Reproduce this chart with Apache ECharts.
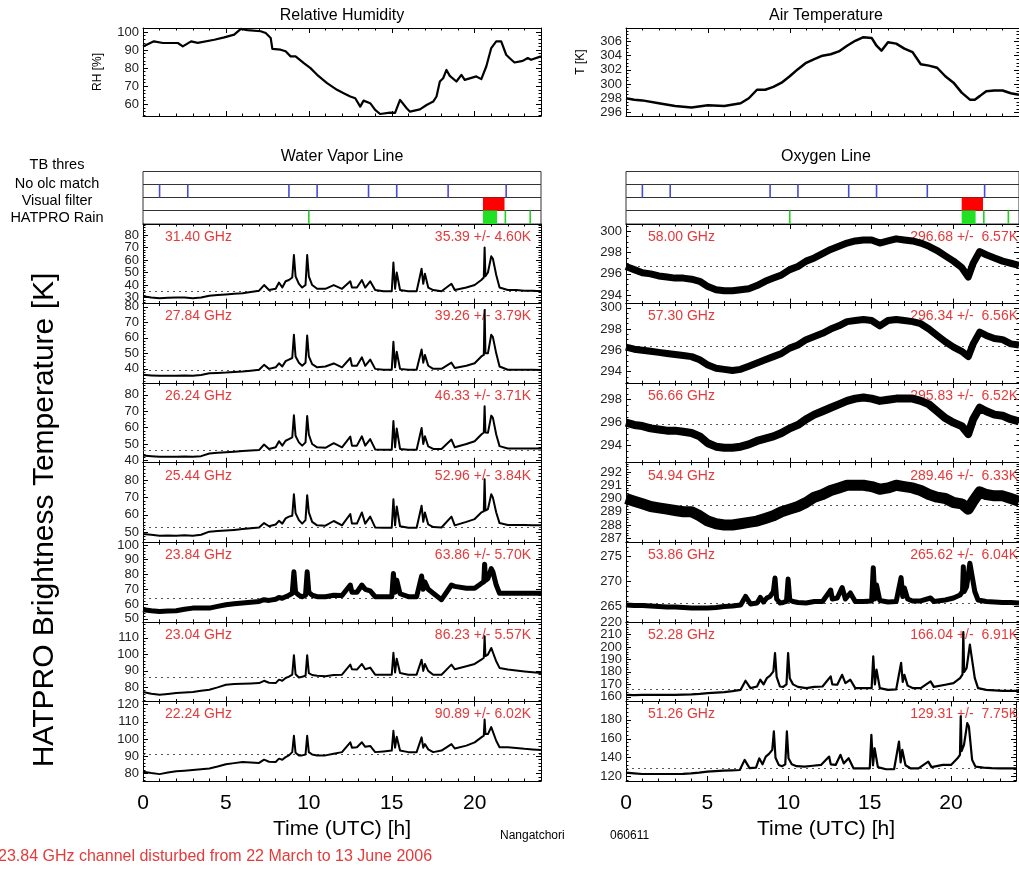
<!DOCTYPE html>
<html><head><meta charset="utf-8">
<script src="https://cdn.jsdelivr.net/npm/echarts@6/dist/echarts.min.js"></script>
<style>html,body{margin:0;padding:0;background:#fff}#c{width:1019px;height:869px}</style>
</head><body><div id="c"></div>
<script>
// ---------------- DATA ----------------
const rhTime = [0,0.66,1.2,2.1,2.4,2.9,3.3,4.3,4.9,5.5,5.9,6.3,7.1,7.4,7.7,7.8,8.3,8.6,8.9,9.2,9.7,10.1,10.5,11.1,11.7,12.1,12.5,12.8,13.1,13.3,13.7,14.0,14.3,14.9,15.2,15.5,15.9,16.1,16.7,17.1,17.5,17.7,17.9,18.1,18.3,18.5,18.9,19.2,19.4,20.1,20.4,20.7,21.0,21.3,21.6,21.9,22.1,22.4,22.9,23.2,23.4,24];
const rhVals = [92,94.8,93.9,93.9,92,94.8,94,95.7,97,98.5,101.7,101,100.4,99.4,96.7,90.6,90.2,89.3,86.5,86.5,82.8,80,76.3,71.7,68,66.1,64.3,63.3,58.7,62,60.6,56.9,54.6,55.4,55.2,62.4,57.8,55.9,57.2,59.6,61.5,64.3,72.6,74.4,79,75.7,72.6,76.3,73.5,75.4,73.9,80.9,91.1,94.8,94.8,87.4,85.6,83.1,84,85.6,84.6,86.5];
const atTime = [0,0.5,1,2,3,4,5,6,7,7.5,8,8.5,9,9.5,10,10.5,11,11.5,12,12.5,13,13.5,14,14.5,15,15.3,15.6,16,16.5,17,17.5,18,18.5,19,19.5,20,20.5,21,21.3,21.6,22,22.5,23,23.5,24];
const atVals = [298,297.8,297.7,297.3,296.9,296.7,297,296.9,297.3,298,299.2,299.2,299.6,300.2,301.1,302.1,303,303.5,304,304.2,304.6,305.4,306.1,306.6,306.5,305.4,304.7,305.9,305.7,305,304.5,302.8,302.6,302.3,301.1,300.2,298.8,297.8,297.8,298.3,299,299.1,299.1,298.7,298.5];

// flags (hours UTC)
const olcTimes = [1.0, 2.7, 8.8, 10.5, 13.6, 15.3, 18.4, 21.9];
const visualFilter = [[20.5, 21.8]];
const rainBoxes = [[20.5, 21.35]];
const rainLines = [10.0, 21.85, 23.35];

// time grid of the spiky channels
const tSp = [0,0.5,1,1.5,2,2.5,3,3.5,4,4.5, 5,5.5,6,6.5,7,7.3,7.6,8,8.2,8.4, 8.6,8.8,9.0,9.1,9.2,9.4,9.6,9.8,9.9,10.0, 10.2,10.5,11,11.5,12,12.5,12.6,12.9,13.2,13.4, 13.7,14,14.5,15,15.1,15.2,15.3,15.5,16,16.5, 16.8,16.9,17.0,17.2,17.5,18,18.6,18.8,19.5,20, 20.4,20.55,20.6,20.65,20.8,21.0,21.1,21.3,21.5,22, 22.5,23,23.5,24];
// water vapour line channels
const wv3140 = [31,30,29.5,29.8,30,30,29.5,30,31.5,32, 32.5,33,33.5,34.5,35.5,40,36,37,42,38, 43,44,46,64,47,41,38,40,64,47, 40,37,37,40,37,43,38,38,44,38, 43,36,35,35,58,37,50,36,35,35, 53,41,49,38,36,35,41,36,38,40, 44,46,70,47,50,63,61,48,38,36, 36,35.5,35.5,35];
const wv2784 = [36.2,35.8,35.5,35.6,35.6,35.8,35.5,36,37.2,37.4, 37.6,38,38.3,38.8,39.4,42.6,40,41,43.6,41.5, 45,46,47,62,48,44,42,44,61.5,48, 43,41,41.5,43.5,41,47,42,42,47.5,42, 46,40,39.5,39.5,57.5,41,51,40,39.5,39.5, 52.5,44,49,42,40,40,44,40.5,42,43.6, 48,49,78,50,50,62,60.5,50,41.5,39.4, 39.4,39.4,39.4,39.2];
const wv2624 = [43,42.6,42.2,42.3,42.2,42.4,42.2,42.6,44.2,44.6, 45,45.3,45.7,46,46.3,49.7,47,48,51.7,49, 52,53,54,67.5,55,51,49,51,67,55.8, 50,48,47.7,50.5,48,54.5,49,49,54.7,49, 53,46.7,46.5,46.5,64,48,59.4,47,46.5,46.5, 59.8,50,54.7,48.5,47,47,52.7,48,50,51.7, 55.8,57,73,57,56.8,67.3,65.9,55.8,48.7,47.3, 47.3,47.3,47.2,47.2];
const wv2544 = [49,48.6,48.1,48.2,48.1,48.3,48.1,48.6,50.4,50.7, 51,51.4,51.9,52.3,52.8,55.3,53.5,54.5,56.6,55, 58,59,59.5,71.8,61,57,55,57,71.3,61.4, 56,54,53.8,56.5,54,60.5,55,55,61.4,55, 59,52.8,52.6,52.6,69,54,64.8,53.5,52.6,52.6, 65.2,56,61.4,54.5,53,52.8,59,54,56,57.6, 61.4,62,80.4,62.5,63.3,71.8,69.9,61.4,55.3,54.2, 54.2,54.2,54,54];
const wv2384 = [56.2,55.5,55,55.3,55.5,56.5,57.3,57.3,57.3,58.5, 59.6,60.2,60.7,61.2,61.8,63,62.5,63.3,64.5,64, 65,66,67.3,81.8,68,66,65,66,81.8,68, 66,65,65,66,65.8,72.9,68,68,72.9,70, 69,65,65,65,80.7,68,76.2,67,65,65, 79,70,75,70,67.3,63,72.9,72,70.7,70.7, 74,75,87,76,77.3,84,81.8,72.9,67.3,67.3, 67.3,67.3,67.3,67.3];
const wv2304 = [77.2,76.2,75.5,76,76.6,76.9,77.2,77.9,78.6,80, 81.6,82,82.2,82.4,82.6,84,82.8,82.6,84.7,84, 85.7,86.5,87.7,99.5,88,86,86.5,87,99.5,88.7, 87.5,87,86.7,87.5,87.7,93.8,91,90.8,94.2,91, 92,87.7,87.7,87.7,101,89,97.4,88.7,87.7,87.7, 96.8,90,94.2,90,87.7,87.7,93.8,91,92.8,94.2, 96.8,98,111,99,99.9,103.9,103.5,95.8,91.8,90.8, 90.3,89.7,89.2,88.7];
const wv2224 = [81,80.2,79.6,80.5,81.3,81.6,82,82.4,82.9,84, 85.3,86,86.7,86.4,86.1,88,86.8,86.7,88.6,88, 89.5,90.5,92.4,101.9,92,90.5,90.5,91,101.9,92.4, 91,90.5,90.5,91.5,92.4,98.1,95,95.2,98.1,95.5, 96,92.4,92.8,93.3,104.8,95,101.3,93.3,92.4,92.4, 101,95,97.1,94,92.4,93.3,97.1,94.5,96.2,98.1, 101,102,111.4,103,102.9,107,107,99,95.2,95.2, 94.8,94.3,94,93.7];
// oxygen line spiky channels
const ox5386 = [265.3,265.2,265.2,265.1,265,264.9,264.9,264.8,264.7,264.7, 264.7,264.8,265,265.1,265.3,267,265.5,265.7,266.8,265.9, 266.7,267,268,270.7,266.5,265.7,265.8,266,270.5,266.3, 266,265.8,265.7,266,266,268.3,266.5,266.7,268.8,266.5, 267.7,266,266,266.1,272.8,266.5,269.3,266.2,265.9,266, 270.8,267,268.7,266.5,266.1,266.1,266.7,266,266.3,266.7, 267.3,268,273,268,269,273.7,273.3,268,266.3,266, 265.9,265.8,265.8,265.7];
const ox5228 = [161.6,161.4,161.5,161.5,161.6,161.6,161.6,161.8,162,162.4, 163,163.4,163.8,164.6,165.6,172.9,167,168.3,173.7,170, 175,177,180.4,195.2,176,168.3,168,170,195.2,175, 170,168,167,168,168.3,176.4,170,169.7,177.7,171, 173.7,167,167,167,192.5,170,181.8,167,165.6,166, 187.2,172,177.7,169,167,167,172.4,168,169.7,171, 175,178,212,180,183.1,201.9,200.6,175,167,165.6, 165.2,164.8,164.8,164.8];
const ox5126 = [124.2,123.5,122.8,122.8,122.8,122.8,122.8,123,123.5,124.3, 125.3,125.8,126.4,126.7,127,137.7,129,129.5,139.4,133, 141.2,144,148.3,167.7,140,132.4,131,133,167.7,139.4, 133,131,130.6,131.5,132.4,141.2,133,132.4,143,134, 139.4,128.8,128.8,128.8,164.2,132,150,130,127.8,128, 157.1,135,148.3,132,128.8,128.8,135.9,130,132.4,132.4, 139.4,143,183.6,147,153.6,176.5,173,137.7,130.6,129.5, 129,128.8,128.8,128.8];
// time grid of the smooth oxygen channels
const tOx = [0,0.5,1,1.5,2,2.5,3,3.5,4,4.5, 5,5.5,6,6.5,7,7.5,8,8.5,9,9.5, 10,10.5,11,11.5,12,12.5,13,13.5,14,14.5, 15,15.5,16,16.5,17,17.5,18,18.5,19,19.5, 20,20.5,20.9,21.2,21.6,22,22.5,23,23.5,24];
const ox5800 = [296.7,296.4,296.1,296.0,295.8,295.7,295.6,295.6,295.5,295.3, 294.8,294.5,294.4,294.4,294.5,294.6,294.9,295.3,295.6,295.9, 296.4,296.7,297.2,297.5,297.9,298.3,298.6,298.9,299.1,299.2, 299.2,298.9,299.1,299.3,299.2,299.1,298.9,298.6,298.2,297.7, 297.2,296.6,295.7,297.0,298.1,297.8,297.5,297.2,297.0,296.8];
const ox5730 = [296.3,296.1,296.0,295.9,295.8,295.7,295.6,295.5,295.4,295.1, 294.6,294.3,294.2,294.1,294.2,294.5,294.8,295.1,295.4,295.7, 296.2,296.5,297.0,297.3,297.6,298.0,298.3,298.7,298.8,298.9, 298.8,298.3,298.8,298.9,298.8,298.7,298.5,298.0,297.4,296.8, 296.3,295.9,295.4,296.6,297.7,297.4,297.1,297.0,296.6,296.5];
const ox5666 = [296.0,295.8,295.7,295.5,295.4,295.3,295.3,295.2,295.1,294.8, 294.2,293.9,293.8,293.8,293.9,294.1,294.4,294.6,294.8,295.1, 295.5,295.8,296.3,296.7,297.0,297.3,297.6,297.9,298.1,298.2, 298.1,297.9,298.0,298.1,298.1,298.1,297.9,297.6,297.0,296.4, 296.0,295.7,295.0,296.3,297.3,297.0,296.7,296.6,296.3,296.1];
const ox5494 = [290.0,289.8,289.6,289.4,289.3,289.2,289.1,289.0,289.0,288.7, 288.3,288.1,288.0,288.0,288.1,288.2,288.3,288.5,288.7,289.0, 289.2,289.4,289.7,290.1,290.3,290.6,290.8,291.0,291.0,291.0, 290.9,290.7,290.8,291.0,290.9,290.8,290.6,290.3,290.1,290.0, 289.7,289.6,289.2,289.8,290.5,290.3,290.2,290.2,290.0,289.8];

const wvFreqs = ['31.40','27.84','26.24','25.44','23.84','23.04','22.24'];
const wvMeans = [35.39, 39.26, 46.33, 52.96, 63.86, 86.23, 90.89];
const wvStds  = [4.60, 3.79, 3.71, 3.84, 5.70, 5.57, 6.02];
const wvRanges = [[25.2,88.8],[30.8,82.1],[38.6,87.1],[44.3,89.9],[48,101.8],[71.5,119.7],[75.6,121.9]];
const wvTicks = [10,10,10,10,10,10,10];
const oxFreqs = ['58.00','57.30','56.66','54.94','53.86','52.28','51.26'];
const oxMeans = [296.68, 296.34, 295.83, 289.46, 265.62, 166.04, 129.31];
const oxStds  = [6.57, 6.56, 6.52, 6.33, 6.04, 6.91, 7.75];
const oxRanges = [[293.2,300.7],[292.9,300.4],[292.5,299.45],[286.7,292.7],[261.9,277.9],[156.3,220.2],[115.4,199.4]];
const oxTicks = [2,2,2,1,5,10,20];
const hourTicks = [0,5,10,15,20];

// ---------------- LAYOUT / STYLE ----------------
const FONT = '"Liberation Sans", Arial, Helvetica, sans-serif';
const RED = '#e33b3b';
const COL = [{left:143, width:398}, {left:626, width:400}];
const PTOP = 224, PBOT = 781, PH = (PBOT-PTOP)/7;
const grids=[], xAxes=[], yAxes=[], series=[], graphics=[];

function isMult(v, step){ const r=v/step; return Math.abs(r-Math.round(r))<1e-6; }
function xAx(g, pos, showLbl){
  return {type:'value', gridIndex:g, position:pos, min:0, max:24, interval:5,
    axisLine:{show:true,onZero:false,lineStyle:{color:'#000',width:1}},
    axisTick:{show:true,inside:true,length:5,lineStyle:{color:'#000'}},
    minorTick:{show:true,splitNumber:5,length:2.5,lineStyle:{color:'#000'}},
    splitLine:{show:false}, minorSplitLine:{show:false},
    axisLabel:{show:showLbl, fontSize:21, color:'#000', fontFamily:FONT, margin:12,
      formatter:v=> hourTicks.indexOf(v)>=0 ? String(v) : ''}};
}
function yAx(g, pos, mn, mx, step, showLbl){
  return {type:'value', gridIndex:g, position:pos, min:mn, max:mx,
    splitNumber:Math.round((mx-mn)/step), scale:true,
    axisLine:{show:true,onZero:false,lineStyle:{color:'#000',width:1}},
    axisTick:{show:true,inside:true,length:5,lineStyle:{color:'#000'}},
    minorTick:{show:true,splitNumber:(step===2?4:5),length:2.5,lineStyle:{color:'#000'}},
    splitLine:{show:false}, minorSplitLine:{show:false},
    axisLabel:{show:showLbl, fontSize:13, color:'#222', fontFamily:FONT, margin:4,
      formatter:v=> isMult(v,step) ? String(Math.round(v)) : ''}};
}
function panel(left, top, width, height, mn, mx, step, showX){
  const g = grids.length;
  grids.push({left, top, width, height, show:false});
  const xi = xAxes.length;
  xAxes.push(xAx(g,'bottom',showX)); xAxes.push(xAx(g,'top',false));
  const yi = yAxes.length;
  yAxes.push(yAx(g,'left',mn,mx,step,true)); yAxes.push(yAx(g,'right',mn,mx,step,false));
  return {xi, yi};
}
function lineSeries(ax, t, v, w, mean){
  const s = {type:'line', xAxisIndex:ax.xi, yAxisIndex:ax.yi, data:t.map((x,i)=>[x,v[i]]),
    showSymbol:false, symbol:'none', z:3, clip:true,
    lineStyle:{color:'#000', width:w, join:'round'}};
  if (mean!==undefined){
    s.markLine = {silent:true, symbol:['none','none'], label:{show:false}, animation:false,
      lineStyle:{type:[2,4], color:'#555', width:1}, data:[{yAxis:mean}], z:2};
  }
  series.push(s);
}
function text(x, y, str, opt){
  opt = opt||{};
  graphics.push({type:'text', x, y, rotation:opt.rot||0, z:opt.z||1, silent:true,
    style:{text:str, fill:opt.color||'#000', font:(opt.size||14)+'px '+FONT,
      textAlign:opt.align||'left', align:opt.align||'left',
      textVerticalAlign:'middle', verticalAlign:'middle'}});
}
function flagGrid(c, top, h){
  const g = grids.length;
  grids.push({left:COL[c].left, top, width:COL[c].width, height:h, show:true, borderColor:'#333', borderWidth:1, backgroundColor:'rgba(0,0,0,0)'});
  xAxes.push({type:'value', gridIndex:g, min:0, max:24, show:false});
  yAxes.push({type:'value', gridIndex:g, min:0, max:1, show:false});
  return {xi:xAxes.length-1, yi:yAxes.length-1};
}
function spans(ax, ranges, color){
  series.push({type:'custom', xAxisIndex:ax.xi, yAxisIndex:ax.yi, z:4, data:ranges,
    renderItem:(p, api)=>{
      const a = api.coord([api.value(0),1]), b = api.coord([api.value(1),0]);
      let x=a[0], w=b[0]-a[0];
      if (w<1.6){ x=a[0]-0.8; w=1.6; }
      return {type:'rect', shape:{x, y:a[1], width:w, height:b[1]-a[1]}, style:{fill:color}};
    }});
}

// top panels
let ax = panel(COL[0].left, 28, COL[0].width, 88, 53.5, 102.2, 10, false);
lineSeries(ax, rhTime, rhVals, 2.2);
ax = panel(COL[1].left, 28, COL[1].width, 88, 295.5, 307.9, 2, false);
lineSeries(ax, atTime, atVals, 2.5);
text(342, 16, 'Relative Humidity', {align:'center', size:16});
text(826, 16, 'Air Temperature', {align:'center', size:16});
text(98, 72, 'RH [%]', {align:'center', size:12, rot:Math.PI/2});
text(581, 62, 'T [K]', {align:'center', size:12, rot:Math.PI/2});

// flags
const rowTops = [171.5, 184.5, 197.5, 210.5], rowH = 13;
for (let c=0;c<2;c++){
  flagGrid(c, rowTops[0], rowH);
  let f = flagGrid(c, rowTops[1], rowH); spans(f, olcTimes.map(t=>[t,t]), '#4a4ad8');
  f = flagGrid(c, rowTops[2], rowH); spans(f, visualFilter, '#ff0000');
  f = flagGrid(c, rowTops[3], rowH+0.5); spans(f, rainBoxes, '#22e022'); spans(f, rainLines.map(t=>[t,t]), '#22d022');
}
text(57, 165, 'TB thres', {align:'center', size:14.5});
text(57, 184, 'No olc match', {align:'center', size:14.5});
text(57, 201, 'Visual filter', {align:'center', size:14.5});
text(57, 218, 'HATPRO Rain', {align:'center', size:14.5});
text(342, 157, 'Water Vapor Line', {align:'center', size:16});
text(826, 157, 'Oxygen Line', {align:'center', size:16});

// channel panels
const wvData = [wv3140, wv2784, wv2624, wv2544, wv2384, wv2304, wv2224];
const wvW = [2,2,2,2,5,2,2];
const oxData = [ox5800, ox5730, ox5666, ox5494, ox5386, ox5228, ox5126];
const oxT = [tOx, tOx, tOx, tOx, tSp, tSp, tSp];
const oxW = [7, 7, 8, 11, 5, 2.2, 2.2];
for (let i=0;i<7;i++){
  const top = PTOP + i*PH, last = i===6;
  let a = panel(COL[0].left, top, COL[0].width, PH, wvRanges[i][0], wvRanges[i][1], wvTicks[i], last);
  lineSeries(a, tSp, wvData[i], wvW[i], wvMeans[i]);
  text(COL[0].left+22, top+13, wvFreqs[i]+' GHz', {color:RED, size:14});
  text(COL[0].left+COL[0].width-10, top+13, wvMeans[i].toFixed(2)+' +/- '+wvStds[i].toFixed(2)+'K', {color:RED, size:14, align:'right'});
  a = panel(COL[1].left, top, COL[1].width, PH, oxRanges[i][0], oxRanges[i][1], oxTicks[i], last);
  lineSeries(a, oxT[i], oxData[i], oxW[i], oxMeans[i]);
  text(COL[1].left+22, top+13, oxFreqs[i]+' GHz', {color:RED, size:14});
  text(COL[1].left+COL[1].width-8, top+13, oxMeans[i].toFixed(2)+' +/-  '+oxStds[i].toFixed(2)+'K', {color:RED, size:14, align:'right'});
}
text(45, 520, 'HATPRO Brightness Temperature [K]', {align:'center', size:30, rot:Math.PI/2});
text(342, 829, 'Time (UTC) [h]', {align:'center', size:21});
text(826, 829, 'Time (UTC) [h]', {align:'center', size:21});
text(500, 836, 'Nangatchori', {size:12});
text(610, 836, '060611', {size:12});
text(-2, 857, '23.84 GHz channel disturbed from 22 March to 13 June 2006', {color:RED, size:16});

const chart = echarts.init(document.getElementById('c'), null, {renderer:'canvas'});
chart.setOption({animation:false, backgroundColor:'#fff', grid:grids, xAxis:xAxes, yAxis:yAxes, series, graphic:{elements:graphics}});
</script></body></html>
